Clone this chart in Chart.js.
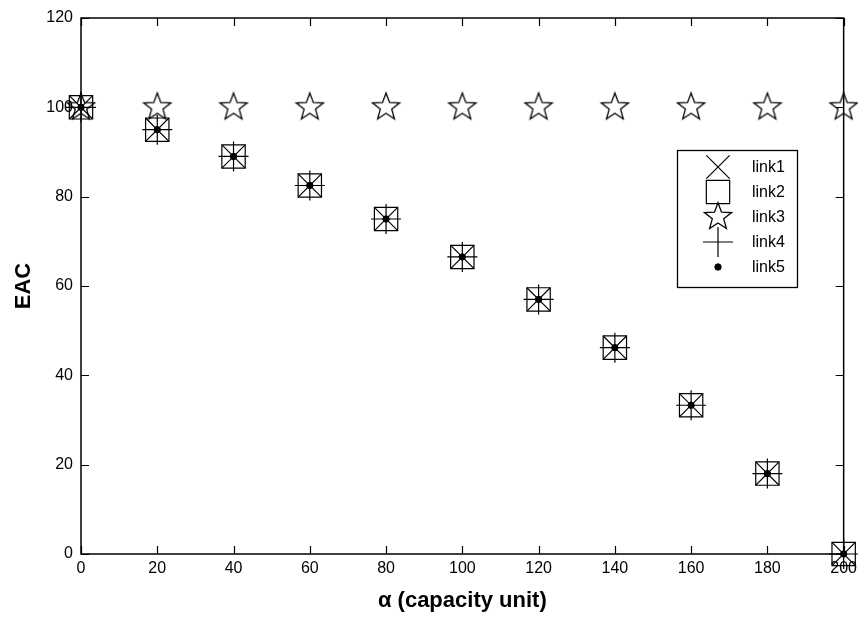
<!DOCTYPE html>
<html>
<head>
<meta charset="utf-8">
<script src="https://cdn.jsdelivr.net/npm/chart.js@4.4.0/dist/chart.umd.min.js"></script>
<style>
html,body{margin:0;padding:0;background:#fff;overflow:hidden;}
#wrap{width:858px;height:617px;overflow:hidden;}
</style>
</head>
<body>
<div id="wrap"><canvas id="c" width="862" height="617"></canvas></div>
<script>
// ---- data ----
const alphaValues = [0, 20, 40, 60, 80, 100, 120, 140, 160, 180, 200];
const link1 = [100, 95, 89, 82.5, 75, 66.5, 57, 46.2, 33.3, 18, 0];
const link2 = [100, 95, 89, 82.5, 75, 66.5, 57, 46.2, 33.3, 18, 0];
const link3 = [100, 100, 100, 100, 100, 100, 100, 100, 100, 100, 100];
const link4 = [100, 95, 89, 82.5, 75, 66.5, 57, 46.2, 33.3, 18, 0];
const link5 = [100, 95, 89, 82.5, 75, 66.5, 57, 46.2, 33.3, 18, 0];
const seriesNames = ['link1', 'link2', 'link3', 'link4', 'link5'];
const xTicks = [0, 20, 40, 60, 80, 100, 120, 140, 160, 180, 200];
const yTicks = [0, 20, 40, 60, 80, 100, 120];
const xTitle = 'α (capacity unit)';
const yTitle = 'EAC';

const FONT = "'Liberation Sans', Arial, Helvetica, sans-serif";

function makeStar(R, ratio, lw) {
  const s = 34;
  const c = document.createElement('canvas');
  c.width = s; c.height = s;
  const g = c.getContext('2d');
  g.beginPath();
  for (let i = 0; i < 10; i++) {
    const r = (i % 2) ? R * ratio : R;
    const a = -Math.PI / 2 + i * Math.PI / 5;
    const px = s / 2 + r * Math.cos(a), py = s / 2 + r * Math.sin(a);
    if (i === 0) g.moveTo(px, py); else g.lineTo(px, py);
  }
  g.closePath();
  g.lineWidth = lw;
  g.lineJoin = 'miter';
  g.strokeStyle = '#000';
  g.stroke();
  return c;
}
const starImg = makeStar(14.3, 0.42, 1.3);

const styles = [
  {pointStyle: 'crossRot', radius: 16.5, borderWidth: 1.2, fill: 'rgba(0,0,0,0)'},
  {pointStyle: 'rect', radius: 16.5, borderWidth: 1.2, fill: 'rgba(0,0,0,0)'},
  {pointStyle: starImg, radius: 14, borderWidth: 1.2, fill: 'rgba(0,0,0,0)'},
  {pointStyle: 'cross', radius: 15, borderWidth: 1.2, fill: 'rgba(0,0,0,0)'},
  {pointStyle: 'circle', radius: 3.2, borderWidth: 1, fill: '#000'}
];
const seriesValues = [link1, link2, link3, link4, link5];

const datasets = seriesValues.map((vals, i) => ({
  label: seriesNames[i],
  data: alphaValues.map((x, j) => ({x: x, y: vals[j]})),
  showLine: false,
  pointStyle: styles[i].pointStyle,
  pointRadius: styles[i].radius,
  pointHoverRadius: styles[i].radius,
  pointBorderWidth: styles[i].borderWidth,
  pointBorderColor: '#000',
  pointBackgroundColor: styles[i].fill,
  clip: false
}));

const framePlugin = {
  id: 'frame',
  beforeDatasetsDraw(chart) {
    const {ctx, chartArea: a, scales: {x, y}} = chart;
    ctx.save();
    ctx.strokeStyle = '#000';
    ctx.lineWidth = 1.5;
    ctx.strokeRect(a.left, a.top, a.right - a.left, a.bottom - a.top);
    ctx.lineWidth = 1.2;
    ctx.beginPath();
    const tl = 8;
    x.ticks.forEach(t => {
      const px = Math.round(x.getPixelForValue(t.value)) + 0.5;
      ctx.moveTo(px, a.bottom); ctx.lineTo(px, a.bottom - tl);
      ctx.moveTo(px, a.top); ctx.lineTo(px, a.top + tl);
    });
    y.ticks.forEach(t => {
      const py = Math.round(y.getPixelForValue(t.value)) + 0.5;
      ctx.moveTo(a.left, py); ctx.lineTo(a.left + tl, py);
      ctx.moveTo(a.right, py); ctx.lineTo(a.right - tl, py);
    });
    ctx.stroke();
    ctx.restore();
  }
};

const legendPlugin = {
  id: 'boxLegend',
  afterDraw(chart) {
    const ctx = chart.ctx;
    const bx = 677, by = 150, bw = 120, bh = 137;
    ctx.save();
    ctx.fillStyle = '#fff';
    ctx.fillRect(bx, by, bw, bh);
    ctx.strokeStyle = '#000';
    ctx.lineWidth = 1.3;
    ctx.strokeRect(bx + 0.5, by + 0.5, bw, bh);
    chart.data.datasets.forEach((ds, i) => {
      const cy = 167 + i * 25;
      ctx.strokeStyle = '#000';
      ctx.fillStyle = ds.pointBackgroundColor;
      ctx.lineWidth = ds.pointBorderWidth;
      Chart.helpers.drawPoint(ctx, {
        pointStyle: ds.pointStyle,
        radius: ds.pointRadius,
        borderWidth: ds.pointBorderWidth,
        rotation: 0
      }, 718, cy);
      ctx.fillStyle = '#000';
      ctx.font = '16px ' + FONT;
      ctx.textAlign = 'left';
      ctx.textBaseline = 'middle';
      ctx.fillText(ds.label, 752, cy + 1);
    });
    ctx.restore();
  }
};

new Chart(document.getElementById('c'), {
  type: 'scatter',
  data: {datasets: datasets},
  options: {
    responsive: false,
    animation: false,
    devicePixelRatio: 1,
    layout: {padding: {top: 18, right: 0, left: 0, bottom: 0}},
    plugins: {legend: {display: false}, tooltip: {enabled: false}},
    events: [],
    scales: {
      x: {
        type: 'linear', min: 0, max: 200,
        afterBuildTicks: s => { s.ticks = xTicks.map(v => ({value: v})); },
        ticks: {color: '#000', font: {size: 16, family: FONT}, padding: 5, maxRotation: 0, autoSkip: false},
        grid: {display: false, drawTicks: false},
        border: {display: false},
        title: {display: true, text: xTitle, color: '#000', font: {size: 22, weight: 'bold', family: FONT}, padding: {top: 0, bottom: 3}},
        afterFit: s => { s.height = 63; }
      },
      y: {
        type: 'linear', min: 0, max: 120,
        afterBuildTicks: s => { s.ticks = yTicks.map(v => ({value: v})); },
        ticks: {color: '#000', font: {size: 16, family: FONT}, padding: 8, autoSkip: false},
        grid: {display: false, drawTicks: false},
        border: {display: false},
        title: {display: true, text: yTitle, color: '#000', font: {size: 22, weight: 'bold', family: FONT}, padding: {top: 11, bottom: 0}},
        afterFit: s => { s.width = 81; }
      }
    }
  },
  plugins: [framePlugin, legendPlugin]
});
</script>
</body>
</html>
